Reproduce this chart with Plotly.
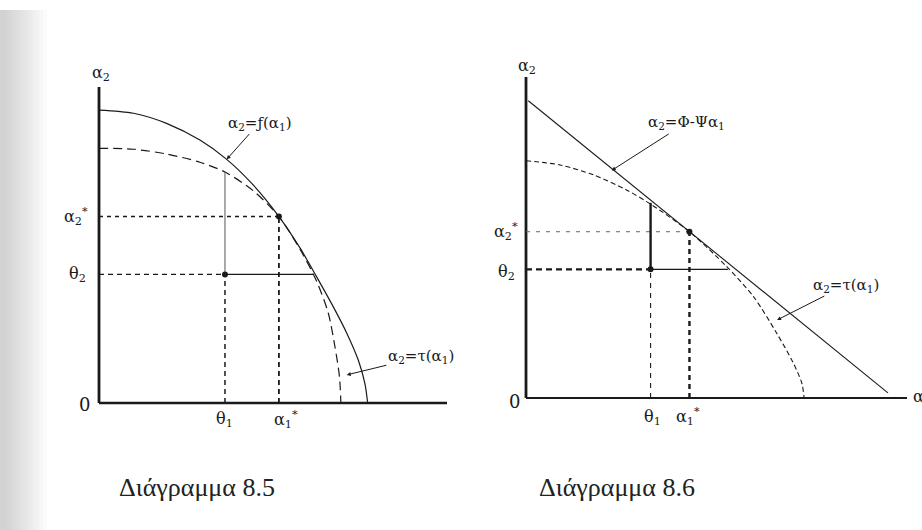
import plotly.graph_objects as go

W, H = 922, 530

# ---- Diagram 8.5: frontier f and inner curve tau, tangent at the optimum ----
f_a1 = [0.0, 0.99, 1.94, 2.90, 3.67, 4.43, 5.17, 5.78, 6.25, 6.73, 7.12, 7.45, 7.64, 7.72]
f_a2 = [9.27, 9.17, 8.85, 8.32, 7.71, 6.90, 5.90, 4.90, 4.00, 3.05, 2.21, 1.36, 0.62, 0.0]
t1_a1 = [0.0, 0.99, 1.94, 2.90, 3.62, 4.43, 5.17, 5.78, 6.25, 6.59, 6.78, 6.91, 6.95]
t1_a2 = [8.06, 8.03, 7.88, 7.62, 7.31, 6.72, 5.90, 4.86, 3.86, 2.84, 1.78, 0.83, 0.0]
theta1_85, theta2_85 = 3.62, 4.07
a1s_85, a2s_85 = 5.17, 5.90
theta_up_85 = 7.31      # vertical from theta reaches the tau curve
theta_right_85 = 6.15   # horizontal from theta reaches the frontier

# ---- Diagram 8.6: budget line Phi - Psi*a1 tangent to tau ----
line_a1 = [0.06, 9.50]
line_a2 = [9.26, 0.16]
t2_a1 = [0.0, 0.89, 1.77, 2.64, 3.27, 4.29, 5.27, 5.97, 6.58, 7.02, 7.24, 7.30]
t2_a2 = [7.39, 7.26, 6.95, 6.48, 6.04, 5.18, 4.09, 3.16, 2.02, 1.08, 0.46, 0.0]
theta1_86, theta2_86 = 3.27, 4.01
a1s_86, a2s_86 = 4.29, 5.18
theta_up_86 = 6.08
theta_right_86 = 5.30

AX_LEN = 10.0

# panel placement: origin pixel and pixels per unit
PANELS = {
    "L": dict(ox=99, oy=403, sx=34.8, sy=31.6, px0=0, px1=461),
    "R": dict(ox=526, oy=398, sx=38.1, sy=32.1, px0=461, px1=922),
}

INK = "#1a1a1a"
CAPTION_FONT = "Liberation Serif, Times New Roman, serif"
LABEL_FONT = "DejaVu Serif"

fig = go.Figure()


def seg(x, y, xa, ya, width=1.2, dash="solid", color=INK, shape="linear"):
    fig.add_trace(go.Scatter(
        x=x, y=y, xaxis=xa, yaxis=ya, mode="lines",
        line=dict(color=color, width=width, dash=dash, shape=shape, smoothing=0.8),
        hoverinfo="skip", showlegend=False))


def dots(x, y, xa, ya):
    fig.add_trace(go.Scatter(
        x=x, y=y, xaxis=xa, yaxis=ya, mode="markers",
        marker=dict(color=INK, size=6), hoverinfo="skip", showlegend=False))


def label(text, x, y, xr, yr, size=16, **kw):
    kw.setdefault("xanchor", "center")
    fig.add_annotation(text=text, x=x, y=y, xref=xr, yref=yr, showarrow=False,
                       font=dict(family=LABEL_FONT, size=size, color=INK), **kw)


def pointer(text, x, y, tx, ty, xr, yr):
    fig.add_annotation(x=x, y=y, xref=xr, yref=yr, ax=tx, ay=ty, axref=xr, ayref=yr,
                       text=text, showarrow=True, xanchor="center",
                       arrowhead=2, arrowsize=0.8, arrowwidth=1, arrowcolor=INK,
                       font=dict(family=LABEL_FONT, size=15, color=INK))


# ---------- left panel ----------
xa, ya = "x", "y"
seg([0, AX_LEN], [0, 0], xa, ya, width=2.6)
seg([0, 0], [0, AX_LEN], xa, ya, width=2.8)
seg(f_a1, f_a2, xa, ya, width=1.2, shape="spline")
seg(t1_a1, t1_a2, xa, ya, width=1.2, dash="9px,5px", shape="spline")
seg([0, a1s_85], [a2s_85, a2s_85], xa, ya, width=1.6, dash="4px,4px")
seg([a1s_85, a1s_85], [0, a2s_85], xa, ya, width=1.8, dash="5px,4px")
seg([0, theta1_85], [theta2_85, theta2_85], xa, ya, width=1.4, dash="5px,4px")
seg([theta1_85, theta1_85], [0, theta2_85], xa, ya, width=1.5, dash="5px,4px")
seg([theta1_85, theta1_85], [theta2_85, theta_up_85], xa, ya, width=1.0, color="#555")
seg([theta1_85, theta_right_85], [theta2_85, theta2_85], xa, ya, width=1.3)
dots([theta1_85, a1s_85], [theta2_85, a2s_85], xa, ya)

label("α<sub>2</sub>", 0.05, 10.44, xa, ya)
label("0", -0.42, -0.06, xa, ya, size=18)
label("θ<sub>1</sub>", theta1_85, -0.52, xa, ya)
label("α<sub>1</sub><sup>*</sup>", a1s_85 + 0.2, -0.52, xa, ya)
label("α<sub>2</sub><sup>*</sup>", -0.66, a2s_85, xa, ya)
label("θ<sub>2</sub>", -0.62, theta2_85, xa, ya)
label("α<sub>1</sub>", 10.5, 0.02, xa, ya)

pointer("α<sub>2</sub>=ƒ(α<sub>1</sub>)", 3.67, 7.71, 4.6, 8.86, xa, ya)
pointer("α<sub>2</sub>=τ(α<sub>1</sub>)", 7.12, 0.89, 9.25, 1.46, xa, ya)

# ---------- right panel ----------
xa, ya = "x2", "y2"
seg([0, AX_LEN], [0, 0], xa, ya, width=2.2)
seg([0, 0], [0, AX_LEN], xa, ya, width=2.8)
seg(line_a1, line_a2, xa, ya, width=1.1)
seg(t2_a1, t2_a2, xa, ya, width=1.1, dash="5px,3px", shape="spline")
seg([0, a1s_86], [a2s_86, a2s_86], xa, ya, width=1.0, dash="4px,6px", color="#666")
seg([a1s_86, a1s_86], [0, a2s_86], xa, ya, width=2.4, dash="5px,4px")
seg([0, theta1_86], [theta2_86, theta2_86], xa, ya, width=2.2, dash="6px,4px")
seg([theta1_86, theta1_86], [0, theta2_86], xa, ya, width=1.1, dash="5px,5px")
seg([theta1_86, theta1_86], [theta2_86, theta_up_86], xa, ya, width=2.4)
seg([theta1_86, theta_right_86], [theta2_86, theta2_86], xa, ya, width=1.3)
dots([theta1_86, a1s_86], [theta2_86, a2s_86], xa, ya)

label("α<sub>2</sub>", 0.02, 10.34, xa, ya)
label("0", -0.30, -0.12, xa, ya, size=18)
label("θ<sub>1</sub>", theta1_86 + 0.05, -0.6, xa, ya)
label("α<sub>1</sub><sup>*</sup>", a1s_86 - 0.05, -0.57, xa, ya)
label("α<sub>2</sub><sup>*</sup>", -0.52, a2s_86, xa, ya)
label("θ<sub>2</sub>", -0.50, theta2_86 - 0.1, xa, ya)
label("α<sub>1</sub>", 10.1, 0.02, xa, ya, xanchor="left")

pointer("α<sub>2</sub>=Φ-Ψα<sub>1</sub>", 2.25, 7.09, 4.2, 8.57, xa, ya)
pointer("α<sub>2</sub>=τ(α<sub>1</sub>)", 6.59, 2.43, 8.4, 3.52, xa, ya)

# captions
for txt, cx in (("Διάγραμμα 8.5", 197), ("Διάγραμμα 8.6", 617)):
    fig.add_annotation(text=txt, x=cx / W, y=1 - 487 / H, xref="paper", yref="paper",
                       xanchor="center", yanchor="middle", showarrow=False,
                       font=dict(family=CAPTION_FONT, size=26, color="#222"))


def axis_setup(p):
    xr = [(p["px0"] - p["ox"]) / p["sx"], (p["px1"] - p["ox"]) / p["sx"]]
    yr = [(p["oy"] - H) / p["sy"], p["oy"] / p["sy"]]
    ax = dict(visible=False, range=xr, domain=[p["px0"] / W, p["px1"] / W], fixedrange=True)
    ay = dict(visible=False, range=yr, domain=[0, 1], fixedrange=True)
    return ax, ay


lx, ly = axis_setup(PANELS["L"])
rx, ry = axis_setup(PANELS["R"])
ly["anchor"] = "x"
rx["anchor"] = "y2"
ry["anchor"] = "x2"

# shaded page gutter on the left edge
shapes = []
n = 14
for i in range(n):
    g = int(210 + (255 - 210) * (i / n) ** 1.2)
    shapes.append(dict(type="rect", xref="paper", yref="paper",
                       x0=i * 3.3 / W, x1=(i + 1) * 3.3 / W + 0.001, y0=0, y1=1 - 10 / H,
                       line=dict(width=0), fillcolor=f"rgb({g},{g},{g})", layer="below"))

fig.update_layout(
    width=W, height=H, margin=dict(l=0, r=0, t=0, b=0),
    paper_bgcolor="white", plot_bgcolor="rgba(0,0,0,0)",
    xaxis=lx, yaxis=ly, xaxis2=rx, yaxis2=ry,
    shapes=shapes, showlegend=False,
)

fig.write_html("out.html")
